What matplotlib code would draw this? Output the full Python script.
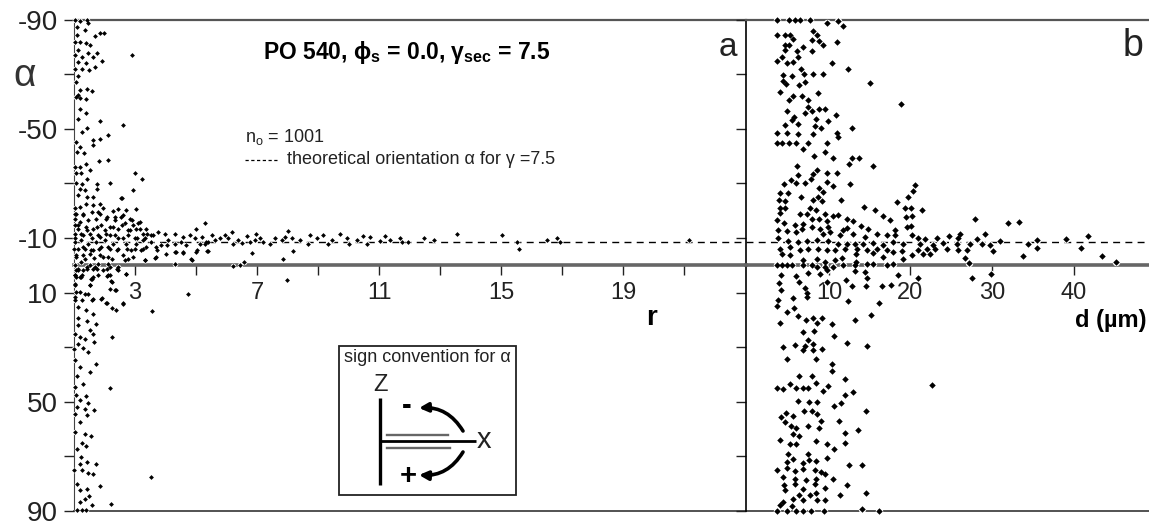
import matplotlib
matplotlib.use('Agg')
import matplotlib.pyplot as plt
from matplotlib.patches import FancyArrowPatch, Rectangle

plt.rcParams['font.family'] = ['Liberation Sans', 'DejaVu Sans']
plt.rcParams['mathtext.fontset'] = 'custom'
plt.rcParams['mathtext.rm'] = 'Liberation Sans'
plt.rcParams['mathtext.bf'] = 'Liberation Sans:bold'
plt.rcParams['mathtext.it'] = 'Liberation Sans:italic'

# panel a: (r, alpha)
a_upper = [(1.03, -90), (1.2, -89.5), (1.44, -90), (1.47, -88.8), (1.09, -87.3), (1.36, -86.1), (1.11, -84.5),
           (1.85, -85.2), (1.98, -85.2), (1.69, -83.9), (1.03, -81.8), (1.2, -81.8), (1.39, -81.4), (1.52, -80.6),
           (1.14, -79), (1.47, -77.8), (1.74, -77.8), (2.89, -76.9), (1.03, -76.9), (1.25, -76.3), (1.63, -76.1),
           (1.91, -74.7), (1.14, -74.5), (1.39, -73.9), (1.03, -72), (1.25, -71.7), (1.5, -71.4), (1.69, -72.6),
           (1.14, -69.2), (1.07, -67.2), (1.2, -64.3), (1.44, -64.7), (1.58, -63.9), (1.14, -62.3), (1.07, -61.7),
           (1.39, -60.8), (1.2, -61.4), (1.2, -57.4), (1.39, -55.6), (1.14, -53.7), (1.85, -52.9), (2.6, -51.5),
           (1.44, -50.3), (1.25, -48.8), (2.13, -47.6), (1.85, -46.4), (1.63, -45.8), (1.61, -44), (1.07, -45.2),
           (1.2, -43.3), (1.33, -41.1), (1.11, -41.5), (2.13, -38.7), (1.83, -38.2), (1.39, -37.2), (1.03, -36),
           (1.2, -36), (1.52, -34.8), (3.0, -33.8), (3.22, -31.5), (1.07, -33.8), (1.22, -33.8), (1.44, -31.7),
           (1.07, -30.2), (1.25, -29.9), (1.74, -29.9), (2.18, -30.2), (2.92, -27.5), (1.2, -28.1), (1.36, -27.7),
           (1.74, -28.1), (2.56, -24.8), (1.14, -25.6), (1.44, -25), (1.63, -25)]
a_cloud = [(2.55, -24.7), (3.04, -20.5), (2.44, -20.5), (2.28, -19.8), (2.72, -20.2), (1.84, -22.6), (1.03, -20.8),
           (1.19, -21.4), (1.40, -22.6), (1.62, -22), (1.95, -20.8), (1.08, -18.9), (1.30, -18.9), (1.79, -19.5),
           (2.06, -17.1), (2.55, -17.7), (2.83, -17.1), (3.15, -15.9), (3.37, -13.4), (3.04, -13.4), (1.03, -17.1),
           (1.19, -15.9), (1.46, -16.5), (1.73, -17.1), (2.33, -16.5), (2.66, -15.3), (2.93, -14.6), (1.02, -14.6),
           (1.13, -13.4), (1.40, -14), (1.62, -13.4), (1.90, -14.6), (2.17, -14), (2.44, -13.4), (2.77, -12.8),
           (3.26, -11.6), (3.54, -11), (3.75, -12.2), (3.97, -11.6), (4.30, -11.6), (4.57, -10.4), (4.79, -11),
           (5.01, -13.4), (5.28, -15.3), (4.96, -9.8), (5.12, -7.9), (5.34, -8.5), (4.08, -9.2), (3.86, -7.3),
           (4.30, -7.9), (4.52, -8.5), (4.68, -7.3), (1.03, -11.6), (1.24, -11.6), (1.51, -11.6), (1.79, -11),
           (2.06, -11.6), (2.33, -11), (2.61, -9.8), (2.99, -9.8), (3.26, -9.2), (3.54, -8.5), (1.03, -8.5),
           (1.24, -9.2), (1.46, -7.9), (1.73, -8.5), (2.0, -9.2), (2.28, -7.9), (2.72, -7.9), (3.04, -7.9),
           (3.37, -6.7), (3.70, -6.7), (1.13, -6.1), (1.35, -6.1), (1.62, -5.5), (1.90, -6.7), (2.17, -6.1),
           (2.44, -6.1), (2.88, -5.5), (3.21, -5.5), (4.03, -4.3), (4.36, -4.9), (4.57, -4.6), (5.01, -4.9),
           (1.05, -3.7), (1.30, -3.7), (1.51, -4.3), (1.84, -3.7), (2.11, -3), (2.61, -3.7), (2.77, -2.4),
           (3.32, -2.1), (3.70, -3), (4.85, -2.4), (4.30, -0.6), (1.03, 0), (1.24, -1.2), (1.51, 0), (1.79, -0.6),
           (2.11, -0.6), (2.44, 0.6), (2.72, 3.1), (1.05, 1.8), (1.30, 1.8), (1.62, 1.2), (1.95, 1.8), (2.17, 3.7),
           (1.05, 4.3), (1.24, 4.3), (1.57, 4.9), (1.79, 3.7), (2.22, 5.9), (1.03, 6.7), (1.51, 7.3), (2.17, 8.6),
           (2.39, 8.9), (1.08, 9.8), (1.35, 10.4), (1.62, 12.2), (1.03, 12.8), (1.90, 12.2), (2.06, 13.7), (2.61, 14)]
a_cloud_extra = [(1.03, -18.9), (1.31, -18.3), (1.58, -19.5), (1.85, -18.9), (2.07, -17.7), (2.34, -17.7), (2.62, -18.3),
                 (2.89, -16.5), (3.11, -15.5), (1.14, -14.7), (1.44, -12.8), (1.74, -14), (2.02, -12.8), (2.29, -14),
                 (2.56, -14.7), (2.84, -12.8), (3.16, -13.4), (3.38, -11.6), (1.03, -9.8), (1.31, -11), (1.58, -9.8),
                 (1.85, -10.4), (2.18, -11), (2.45, -9.8), (2.78, -11), (3.05, -9.8), (3.33, -9.8), (3.6, -11),
                 (1.0, -6.1), (1.28, -6.7), (1.55, -5.5), (1.83, -6.1), (2.13, -6.7), (2.4, -5.5), (2.73, -6.1),
                 (3.0, -6.1), (3.27, -6.1), (3.71, -5.5), (4.04, -7.3), (1.07, -3.1), (1.36, -2.4), (1.66, -2.8),
                 (1.96, -3.1), (2.23, -2.4), (2.67, -2.1), (2.95, -3.1), (3.33, -2.1), (3.66, -2.8), (4.31, -4.9),
                 (4.58, -4.9), (5.02, -5.5), (5.4, -5.3), (4.86, -2.1), (1.14, 1.2), (1.44, 0.6), (1.74, 1.2),
                 (2.18, 0.6), (2.45, 1.8), (1.2, 4.3), (1.63, 4.3), (2.13, 3.7), (1.03, 3.7)]
a_tail = [(5.18, -10.4), (5.29, -7.9), (5.40, -8.5), (5.51, -11), (5.62, -9.1), (5.79, -9.8), (5.95, -11),
          (6.06, -9.8), (6.19, -12), (6.22, -7.9), (6.39, -9.1), (6.50, -8.3), (6.66, -10.7), (6.77, -8.5),
          (6.97, -11.6), (6.93, -9.1), (7.10, -9.8), (7.21, -8.5), (6.82, -4.5), (5.35, -5.1), (7.43, -7.9),
          (7.59, -9.8), (7.81, -9.1), (8.03, -12.4), (7.92, -10.4), (8.14, -9.8), (8.19, -5.1), (7.86, -2.4),
          (8.41, -9.1), (8.68, -7.9), (8.74, -11), (8.96, -9.8), (9.17, -11), (9.34, -7.9), (9.45, -9.1),
          (9.72, -11.6), (9.94, -9.8), (10.0, -7.9), (10.27, -9.1), (10.49, -10.7), (10.6, -7.9), (10.7, -10.4),
          (6.22, 0.3), (6.44, -0.2), (6.58, -1.2), (7.99, 5.3), (11.03, -8.9), (11.19, -10.6), (11.36, -9.1),
          (11.69, -10.1), (11.74, -8.5), (11.96, -8.5), (12.47, -10.1), (12.8, -9.4), (13.54, -11.6), (15.02, -11),
          (15.51, -8.5), (15.6, -6.1), (16.49, -9.1), (16.82, -9.8), (16.93, -8.5), (21.17, -9.4)]
a_lower = [(2.7, 3.1), (3.55, 16.7), (4.75, 10.4), (1.14, 1.8), (1.42, 1.2), (1.69, 0.6), (2.07, 1.2), (2.4, 1.2),
           (1.03, 3.7), (1.25, 3.7), (1.58, 4.9), (2.07, 4), (2.23, 6.1), (1.03, 7.3), (1.52, 7.3), (2.34, 8.9),
           (1.2, 9.8), (1.47, 10.4), (1.91, 12), (2.07, 13.8), (2.23, 15.6), (2.38, 16.5), (2.62, 14.3), (1.03, 11.6),
           (1.25, 12.6), (1.58, 12.8), (1.14, 15.3), (1.39, 16.5), (1.63, 17.7), (1.14, 19.5), (1.42, 20.4),
           (1.72, 21.6), (1.14, 22), (1.52, 23.8), (1.63, 25.3), (1.03, 25), (2.23, 26.3), (1.2, 26.3), (1.36, 26.9),
           (1.66, 28.1), (1.14, 28.7), (1.0, 30.5), (1.31, 30.2), (1.47, 31.7), (1.03, 34.8), (1.72, 36), (1.2, 37.2),
           (1.52, 39.1), (1.11, 40.5), (1.03, 44.6), (1.31, 43.6), (2.18, 44.8), (1.07, 47.6), (1.39, 47.9),
           (1.2, 49.5), (1.47, 50.4), (1.66, 53.1), (1.11, 51.9), (1.36, 52.5), (1.03, 54.3), (1.44, 54.9), (1.2, 57.4),
           (1.03, 61), (1.36, 61.7), (1.55, 62.6), (1.25, 65.1), (1.39, 66.1), (1.11, 67.2), (1.23, 70.2), (1.44, 72),
           (1.72, 72.9), (1.2, 72.9), (1.0, 75.1), (1.25, 75.1), (1.47, 76.1), (1.61, 76.3), (3.51, 77.5), (1.11, 80),
           (1.44, 81.8), (1.85, 81), (1.2, 82.4), (1.5, 84.6), (1.36, 85.5), (1.2, 86.7), (1.58, 87.7), (2.21, 87.3),
           (1.11, 89.7), (1.25, 89.7), (1.39, 89.7)]

# panel b: (d, alpha)
b_upper = [(3.58, -89.7), (5.13, -89.7), (5.83, -89.7), (6.44, -89.7), (7.67, -89.7), (9.79, -88.9), (11.15, -89.5),
           (11.76, -87.5), (3.66, -84.5), (4.6, -84.5), (5.21, -84.5), (8.0, -85.7), (8.57, -84.2), (7.87, -82.4),
           (5.54, -82.8), (4.6, -80.8), (5.13, -80.6), (10.94, -81.8), (9.22, -80.6), (8.81, -82.2), (6.77, -80),
           (7.87, -78.4), (6.03, -78.4), (4.6, -78.8), (3.58, -74.7), (4.19, -76.1), (4.81, -74.1), (5.54, -74.5),
           (6.24, -76.3), (10.33, -73.9), (12.37, -71.9), (4.4, -69.6), (5.42, -69.4), (6.56, -71.7), (6.93, -70),
           (8.08, -70), (9.3, -70.2), (15.03, -66.9), (4.4, -67.4), (4.72, -66.2), (6.36, -65.9), (7.06, -67.2),
           (3.99, -63.5), (8.69, -62.9), (18.79, -58.9), (5.54, -61.9), (6.65, -61.9), (5.13, -60.4), (7.38, -60.4),
           (4.81, -56.4), (7.46, -58), (8.81, -57.1), (9.51, -57.4), (7.06, -55.6), (7.87, -56.4), (10.86, -54.9),
           (5.71, -54.3), (5.42, -53.1), (4.6, -51.3), (6.24, -51.9), (8.4, -53.5), (9.92, -52.9), (12.78, -50.1),
           (8.28, -50.9), (8.98, -50.4), (3.58, -48.5), (4.81, -48.5), (6.24, -47.9), (8.08, -48), (10.94, -48.6),
           (11.15, -47), (3.58, -44.9), (4.19, -44.9), (5.13, -44.9), (5.95, -44.9), (7.38, -44.9), (9.79, -44.9),
           (6.77, -42.7), (9.51, -41.5), (8.16, -40), (10.45, -39.4), (12.78, -39.1), (13.72, -39.4), (12.45, -37),
           (15.36, -36.4), (6.11, -36.4), (8.49, -34.8), (6.24, -33), (9.79, -33.9), (10.94, -33.9), (8.0, -33.3),
           (4.48, -29.7), (5.3, -31.1), (5.95, -30.3), (7.06, -30.3), (7.79, -31.5), (9.71, -30.5), (12.58, -29.9),
           (10.53, -28.9), (20.55, -29.5), (8.81, -28.4), (9.3, -26.9), (3.99, -26.3), (5.01, -26.3), (8.69, -25),
           (3.91, -23.8), (4.6, -23.4), (6.52, -25), (19.73, -25), (20.35, -27.2), (8.0, -23.8), (9.18, -23.4),
           (11.43, -23.8), (18.3, -23), (14.34, -21.4), (15.64, -20.4), (19.33, -21), (20.06, -21), (21.37, -20.4)]
b_mid = [(3.99, -21), (4.6, -20.8), (3.99, -19.3), (7.67, -21.1), (8.4, -20.1), (6.44, -18.7), (7.34, -18.9),
         (9.51, -18.9), (10.45, -17.9), (11.15, -18.3), (12.17, -16.8), (12.9, -16.1), (16.67, -17.9), (17.49, -16.5),
         (20.14, -17.9), (19.45, -17.5), (27.92, -16.8), (31.92, -15.5), (33.27, -16), (3.58, -16.5), (4.48, -15.5),
         (5.83, -14.7), (6.85, -15), (7.87, -17.1), (8.81, -16.8), (9.71, -16.2), (5.95, -12.2), (6.65, -13.1),
         (7.87, -14), (8.9, -13.4), (9.92, -14), (11.68, -12.8), (12.17, -13.8), (13.89, -14.4), (14.83, -13.1),
         (18.1, -12.8), (19.53, -14), (20.02, -14.4), (3.78, -12.8), (4.81, -12.5), (9.3, -11.6), (10.12, -12.2),
         (11.35, -11), (12.99, -11.6), (14.42, -10.4), (15.85, -11.6), (17.08, -11), (18.1, -11), (20.14, -11),
         (20.96, -10.1), (21.78, -9.5), (23.21, -10.1), (24.76, -10.6), (26.07, -11.6), (25.87, -10.1), (29.14, -11.6),
         (28.12, -9.5), (39.08, -9.5), (41.82, -10.6), (35.48, -9.4), (3.78, -10.1), (5.01, -8.9), (6.24, -8.5),
         (7.34, -8.9), (8.57, -9.2), (9.92, -8.9), (11.15, -7.9), (12.17, -7.7), (13.19, -7.9), (14.21, -7.7),
         (15.44, -8.2), (16.67, -7.3), (17.89, -8.5), (19.12, -7.9), (21.17, -7.9), (22.8, -7.3), (24.03, -8.2),
         (25.66, -7.9), (27.3, -7.9), (28.73, -7.9), (29.75, -7.3), (30.98, -8.9), (34.46, -7.9), (3.99, -6.1),
         (5.21, -6.7), (6.44, -5.5), (7.46, -6.1), (8.69, -6.1), (9.71, -5.7), (10.74, -5.7), (11.96, -6.1),
         (13.4, -6.1), (14.62, -5.7), (15.85, -6.1), (17.08, -5.5), (17.89, -4.9), (18.92, -5.3), (20.96, -5.7),
         (21.98, -6.1), (23.0, -6.1), (24.44, -6.1), (25.87, -5.7), (26.89, -5.7), (30.16, -5.3), (35.48, -6.5),
         (40.88, -6.5), (4.19, -4), (5.21, -3.7), (6.85, -2.1), (8.49, -2.4), (9.51, -1.2), (10.74, -1.8), (11.55, -2.8),
         (13.31, -4), (13.31, -1.2), (15.44, -4.5), (16.58, -3.1), (19.12, -2.4), (20.14, -3.9), (21.57, -4),
         (22.39, -4), (26.69, -2.8), (33.76, -3.4), (43.54, -3.4), (45.17, -1.2), (27.22, -0.9)]
b_zero = [(3.58, 0), (4.19, 0), (4.81, 0), (5.42, 0), (6.85, 0), (7.87, 0), (8.57, 0.6), (9.51, 0.6), (10.53, 0.6),
          (11.76, 0), (13.19, 0), (14.62, -0.6), (15.44, -0.6), (17.08, 0), (17.89, -0.4)]
b_lower = [(4.11, 3.7), (5.91, 3.9), (7.38, 2.7), (8.9, 3.3), (9.71, 1.8), (13.19, 2.1), (14.42, 2.4), (18.43, 3.4),
           (20.88, 4.5), (27.55, 4.5), (29.83, 3.3), (14.7, 4.5), (3.87, 6.5), (4.11, 9.2), (6.36, 6.1), (7.06, 8.2),
           (7.34, 10), (9.71, 6.1), (12.09, 5.5), (12.78, 7.7), (14.54, 7.6), (16.54, 7.6), (17.61, 7.1), (3.78, 12.8),
           (3.58, 15), (5.62, 12), (4.81, 17.1), (5.71, 15.6), (7.26, 11.6), (12.37, 13.1), (16.13, 13.7), (15.15, 18.1),
           (6.24, 18.6), (7.18, 20.1), (8.08, 19.5), (9.18, 19.2), (8.57, 21), (13.19, 20.1), (10.33, 21.6), (3.99, 21),
           (6.77, 24.4), (8.16, 24.1), (10.65, 26), (12.25, 28.4), (14.7, 29.5), (7.38, 27.5), (5.83, 29.1), (4.4, 29.9),
           (7.06, 29.7), (8.08, 28.9), (9.18, 30.5), (6.77, 31.1), (8.0, 31.1), (4.81, 34.4), (8.4, 34.4), (10.33, 36),
           (10.33, 38.7), (6.36, 40.5), (7.87, 40.5), (11.96, 41.5), (8.4, 43.1), (5.21, 43.6), (9.92, 44.2), (3.58, 44.9),
           (4.4, 45.2), (5.91, 44.9), (6.85, 44.9), (7.46, 44.8), (9.22, 46), (22.68, 44), (12.9, 46.6), (11.96, 47.5),
           (6.24, 49.7), (7.59, 50.1), (8.57, 50.1), (11.47, 50.4), (10.61, 51.5), (14.54, 53.5), (6.93, 53.4), (7.87, 53.4),
           (8.57, 54.6), (4.72, 54.1), (5.54, 55.1), (4.07, 55.6), (4.6, 57.4), (8.98, 57), (11.27, 57), (5.34, 58.9),
           (5.95, 59.6), (7.46, 58.9), (8.81, 59.6), (11.96, 61.4), (13.6, 60.4), (5.62, 61.9), (6.36, 62.5), (3.99, 64.1),
           (5.21, 65.3), (5.95, 65.3), (8.4, 64.5), (9.71, 65.6), (11.96, 65.1), (10.65, 67.2), (5.01, 69.2), (7.38, 69),
           (5.62, 70.8), (4.81, 72), (7.55, 71.2), (8.4, 71.7), (6.77, 72.6), (9.71, 70.6), (12.45, 73), (14.01, 73),
           (4.81, 74.2), (3.66, 75.1), (5.83, 75.3), (6.77, 74.8), (8.28, 75.1), (8.98, 75.7), (9.51, 76.6), (10.45, 78.1),
           (4.4, 77.5), (5.83, 78.1), (7.18, 78.8), (8.4, 78.1), (4.48, 80.3), (5.83, 80.2), (8.28, 80), (12.25, 80.6),
           (4.6, 82.4), (6.77, 82.1), (9.51, 81.6), (14.54, 83.4), (11.35, 84), (6.36, 84), (8.4, 83.3), (7.67, 84),
           (5.62, 85.5), (6.77, 85.8), (8.57, 86.1), (9.51, 86.1), (4.4, 86.7), (3.99, 87.9), (5.42, 88.2)]
b_bottom = [(3.58, 90), (4.81, 90), (5.91, 90), (6.85, 90), (7.79, 90), (9.38, 90), (14.09, 89.4), (16.13, 90)]

alpha_theory = -8.4
alpha_ticks = [-90, -70, -50, -30, -10, 10, 30, 50, 70, 90]
alpha_labels = ['-90', '', '-50', '', '-10', '10', '', '50', '', '90']
r_ticks = [3, 5, 7, 9, 11, 13, 15, 17, 19, 21]
r_labels = ['3', '', '7', '', '11', '', '15', '', '19', '']
d_ticks = [10, 20, 30, 40]
d_labels = ['10', '20', '30', '40']

W, H = 1149, 525
fig = plt.figure(figsize=(W / 100, H / 100), dpi=100)


def panel(left, right, xlim):
    ax = fig.add_axes([left / W, 1 - 511 / H, (right - left) / W, (511 - 19.5) / H])
    ax.set_xlim(*xlim)
    ax.set_ylim(90, -90)
    ax.patch.set_alpha(0)
    ax.spines['right'].set_visible(False)
    ax.spines['top'].set_color('#555555')
    ax.spines['top'].set_linewidth(1.6)
    ax.spines['bottom'].set_position(('data', 0))
    ax.spines['bottom'].set_color('#666666')
    ax.spines['bottom'].set_linewidth(2.6)
    ax.axhline(90, color='#444444', lw=1.3, clip_on=False, zorder=1)
    ax.axhline(alpha_theory, color='black', lw=1, dashes=(5, 3.8), zorder=1)
    ax.set_yticks(alpha_ticks)
    ax.tick_params(axis='y', length=7.5, width=1, labelsize=20, pad=4, colors='#222222')
    ax.tick_params(axis='x', length=7, width=1, labelsize=17, pad=5, colors='#222222')
    return ax


def dots(ax, pts, size):
    xs = [p[0] for p in pts]
    ys = [p[1] for p in pts]
    # white halo first, it cuts the axis lines like in the original
    ax.scatter(xs, ys, s=size * 2.6, c='white', linewidths=0, clip_on=False, zorder=4)
    ax.scatter(xs, ys, s=size, c='black', marker='D', linewidths=0, clip_on=False, zorder=5)


ax_a = panel(74, 746, (1, 23.03))
ax_a.spines['left'].set_linewidth(0.8)
ax_a.spines['left'].set_color('#444444')
ax_a.set_yticklabels(alpha_labels)
ax_a.set_xticks(r_ticks)
ax_a.set_xticklabels(r_labels)
dots(ax_a, a_upper + a_cloud + a_cloud_extra + a_tail + a_lower, 6)

ax_b = panel(746, 1149, (-0.18, 49.26))
ax_b.spines['left'].set_linewidth(1.2)
ax_b.set_yticklabels([])
ax_b.set_xticks(d_ticks)
ax_b.set_xticklabels(d_labels)
dots(ax_b, b_upper + b_mid + b_zero + b_lower + b_bottom, 11)

# overlay in picture pixels for the texts and the little sketch
ov = fig.add_axes([0, 0, 1, 1])
ov.set_xlim(0, W)
ov.set_ylim(H, 0)
ov.axis('off')

ov.text(407, 52, r'PO 540, $\mathbf{\phi_{s}}$ = 0.0, $\mathbf{\gamma_{sec}}$ = 7.5', fontsize=16.5,
        fontweight='bold', ha='center', va='center')
ov.text(245, 137, r'n$_{\rm o}$ = 1001', fontsize=13, va='center', color='#222222')
ov.plot([245, 279], [160, 160], color='black', lw=0.9, dashes=(2.6, 2))
ov.text(287, 160, 'theoretical orientation \u03b1 for \u03b3 =7.5', fontsize=13, va='center', color='#222222')
ov.text(25, 76, '\u03b1', fontsize=28, ha='center', va='center', color='#333333')
ov.text(728, 47, 'a', fontsize=24, ha='center', va='center', color='#222222')
ov.text(1133, 46, 'b', fontsize=27, ha='center', va='center', color='#222222')
ov.text(651, 318, 'r', fontsize=20, fontweight='bold', ha='center', va='center')
ov.text(1111, 320, 'd (\u00b5m)', fontsize=17, fontweight='bold', ha='center', va='center')

ov.add_patch(Rectangle((338.5, 346), 177.5, 149, fill=False, edgecolor='#222222', lw=1.3))
ov.text(427, 358, 'sign convention for \u03b1', fontsize=13, ha='center', va='center', color='#222222')
ov.text(380, 385, 'Z', fontsize=17, ha='center', va='center', color='#222222')
ov.plot([380, 380], [398, 485], color='black', lw=2.4, solid_capstyle='butt')
ov.plot([380, 476], [441, 441], color='black', lw=2, solid_capstyle='butt')
ov.text(484, 440, 'x', fontsize=21, ha='center', va='center', color='#222222')
ov.plot([387, 448], [435, 435], color='#666666', lw=1.7)
ov.plot([387, 450], [447.5, 447.5], color='#666666', lw=1.7)
ov.text(407, 406, '-', fontsize=21, fontweight='bold', ha='center', va='center')
ov.text(408, 476, '+', fontsize=21, fontweight='bold', ha='center', va='center')
for start, end, rad in [((463, 431), (419, 408), 0.3), ((463, 452), (419, 475), -0.3)]:
    ov.add_patch(FancyArrowPatch(start, end, connectionstyle='arc3,rad=%.1f' % rad, arrowstyle='-|>',
                                 mutation_scale=13, lw=2.6, color='black', shrinkA=0, shrinkB=0))

fig.savefig('out.png', dpi=100)
